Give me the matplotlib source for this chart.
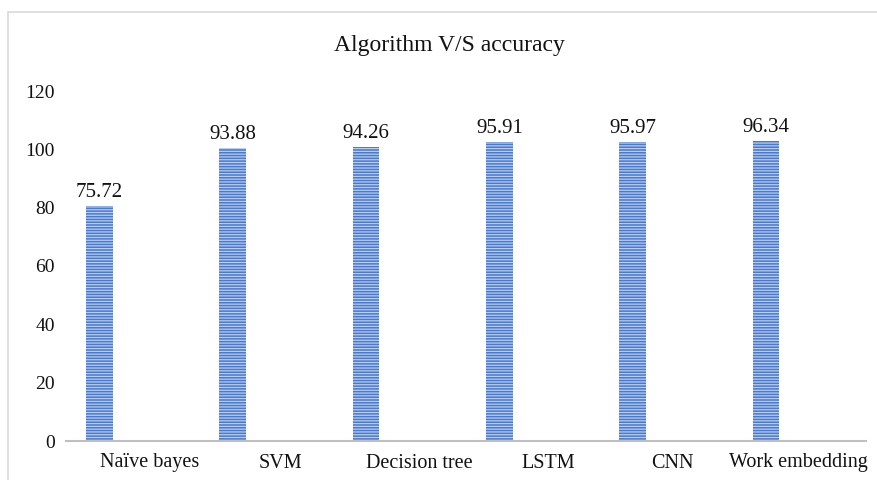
import matplotlib
matplotlib.use("Agg")
import matplotlib.pyplot as plt
from matplotlib.patches import Rectangle

categories = ["Naïve bayes", "SVM", "Decision tree", "LSTM", "CNN", "Work embedding"]
accuracy_labels = [75.72, 93.88, 94.26, 95.91, 95.97, 96.34]
# bar heights as drawn in the reference (they sit above the labelled values)
bar_heights = [80.6, 100.5, 100.8, 102.4, 102.4, 102.9]
y_ticks = [0, 20, 40, 60, 80, 100, 120]

plt.rcParams['font.family'] = ['Liberation Serif', 'DejaVu Serif']
plt.rcParams['hatch.linewidth'] = 0.9

fig = plt.figure(figsize=(8.77, 4.8), dpi=100)
fig.patches.append(Rectangle((8/877, -0.1), 1.2, (480-12)/480 + 0.1,
                             transform=fig.transFigure, fill=False,
                             edgecolor='#d9d9d9', linewidth=1.2))

ax = fig.add_axes([66/877, 39/480, 800/877, 350/480])
x = list(range(len(categories)))
bx = [i - 0.25 for i in x]
ax.bar(bx, bar_heights, width=0.2, color='#4a78cc', edgecolor='#b8cdf0',
       hatch='------', linewidth=0, zorder=2)
for xi, h, lab in zip(bx, bar_heights, accuracy_labels):
    ax.annotate(f"{lab:.2f}", (xi, h), xytext=(0, 3), textcoords='offset points',
                ha='center', va='bottom', fontsize=15, color='#111111')

ax.set_xlim(-0.5, 5.5)
ax.set_ylim(0, 120)
ax.set_yticks(y_ticks)
ax.set_yticklabels([str(v) for v in y_ticks], fontsize=14, color='#111111')
label_shift = [0.13, 0.105, 0.15, 0.115, 0.05, -0.005]
ax.set_xticks([i + s for i, s in zip(x, label_shift)])
ax.set_xticklabels(categories, fontsize=14.5, color='#111111')
ax.tick_params(axis='both', length=0)
ax.tick_params(axis='x', pad=9)
ax.tick_params(axis='y', pad=8)
for s in ['top', 'right', 'left']:
    ax.spines[s].set_visible(False)
ax.spines['bottom'].set_color('#bfbfbf')
ax.spines['bottom'].set_linewidth(1.5)

fig.text(449/877, 1 - 45/480, "Algorithm V/S accuracy", ha='center', va='center',
         fontsize=17, color='#111111')

fig.savefig("out.png", dpi=100)
